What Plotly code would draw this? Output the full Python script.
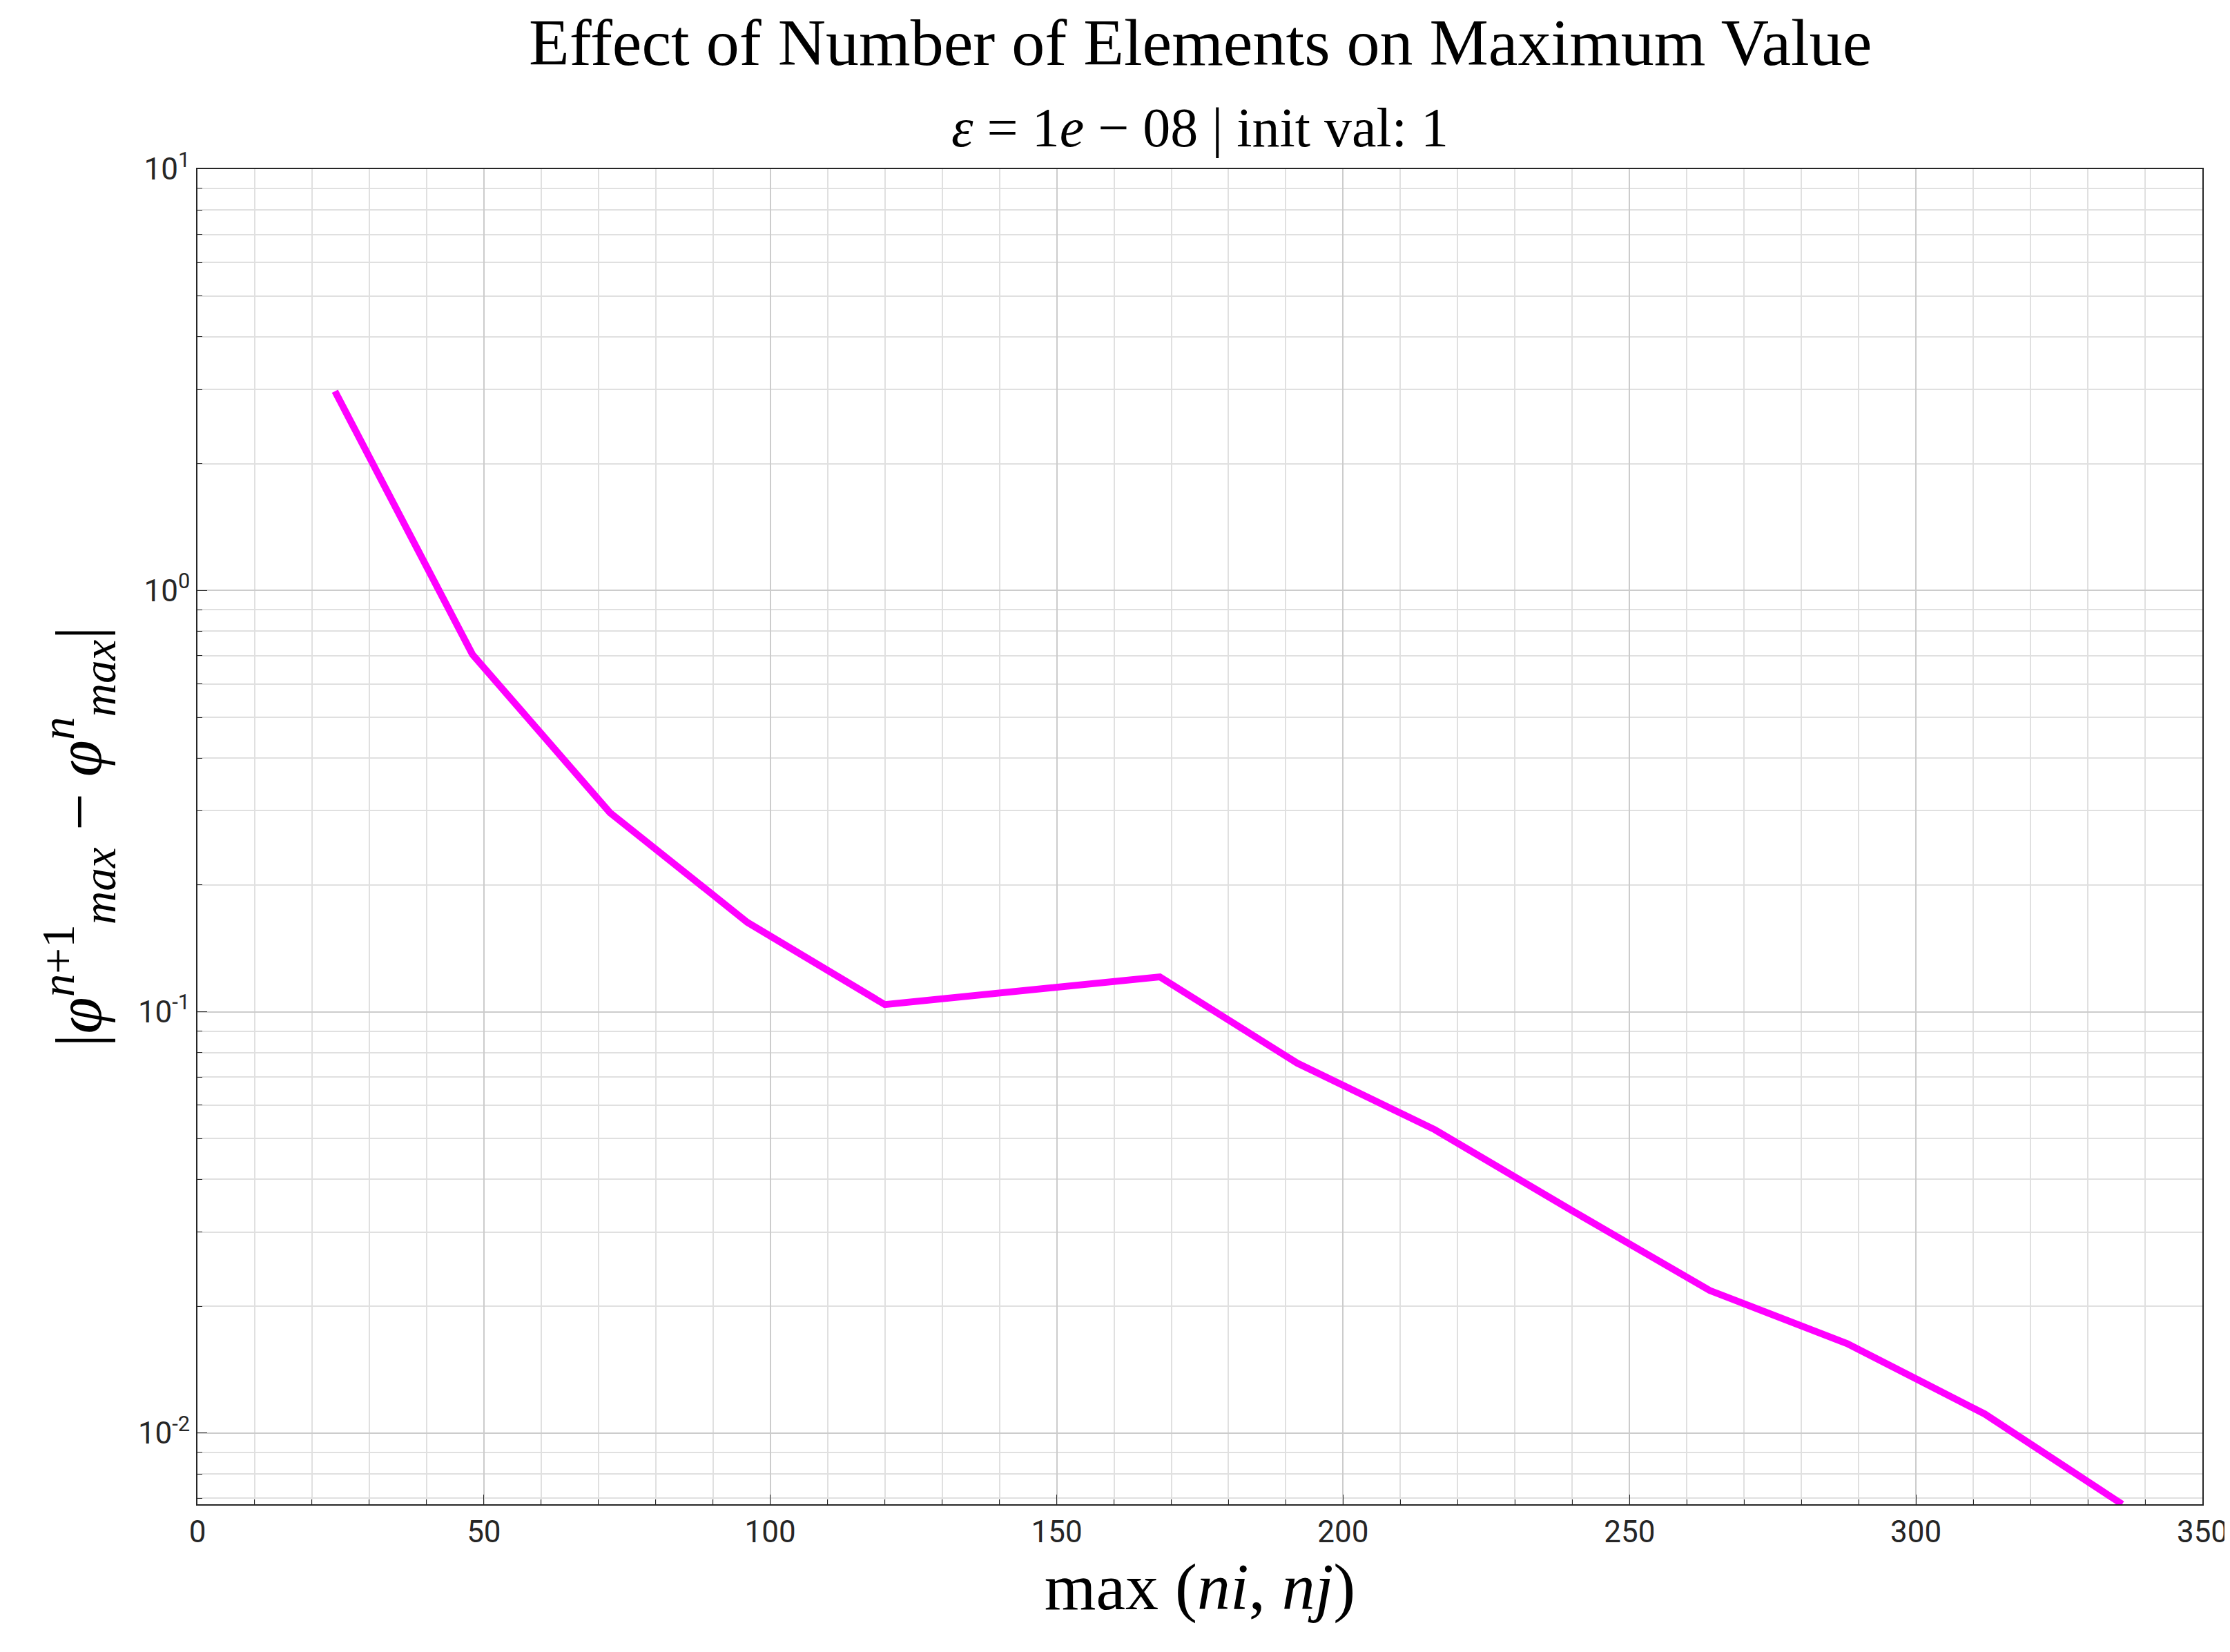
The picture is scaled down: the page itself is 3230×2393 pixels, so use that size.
import plotly.graph_objects as go

# sampled grid sizes and the change in maximum value
n_elements = [24, 48, 72, 96, 120, 144, 168, 192, 216, 240, 264, 288, 312, 336]
max_change = [2.97, 0.705, 0.297, 0.163, 0.104, 0.112, 0.121, 0.0755, 0.0525,
              0.0337, 0.0218, 0.0163, 0.0111, 0.00678]
y_tickvals = [0.01, 0.1, 1, 10]
y_ticktext = ["10<sup>-2</sup>", "10<sup>-1</sup>", "10<sup>0</sup>", "10<sup>1</sup>"]

serif = "Liberation Serif, DejaVu Serif, serif"
sans = "Roboto, Arial, sans-serif"

fig = go.Figure()
fig.add_trace(go.Scatter(
    x=n_elements, y=max_change,
    mode='lines',
    line=dict(color='#FF00FF', width=10),
    showlegend=False,
))

fig.add_annotation(
    text="Effect of Number of Elements on Maximum Value",
    xref='paper', yref='paper', x=0.5, y=1.0, yshift=128, yanchor='bottom',
    showarrow=False, font=dict(family=serif, size=96, color='black'),
)
fig.add_annotation(
    text="<i>ε</i> = 1<i>e</i> − 08 | init val: 1",
    xref='paper', yref='paper', x=0.5, y=1.0, yshift=14, yanchor='bottom',
    showarrow=False, font=dict(family=serif, size=80, color='black'),
)

fig.update_layout(
    width=3230, height=2393,
    paper_bgcolor='white',
    plot_bgcolor='white',
    margin=dict(l=278, r=48, t=237, b=222),
    font=dict(family=sans, size=44, color='#262626'),
)
fig.update_xaxes(
    range=[0, 350], dtick=50,
    showline=True, linecolor='#262626', linewidth=2, mirror=True,
    ticks='inside', ticklen=14, tickcolor='#262626',
    showgrid=True, gridcolor='#cccccc', gridwidth=2,
    minor=dict(dtick=10, showgrid=True, gridcolor='#e0e0e0', gridwidth=1.5,
               ticks='inside', ticklen=7, tickcolor='#262626'),
    zeroline=False,
    title=dict(text="max (<i>ni</i>, <i>nj</i>)", font=dict(family=serif, size=96, color='black'),
               standoff=20),
)
fig.update_yaxes(
    type='log', range=[-2.169, 1], tickvals=y_tickvals, ticktext=y_ticktext,
    showline=True, linecolor='#262626', linewidth=2, mirror=True,
    ticks='inside', ticklen=14, tickcolor='#262626',
    showgrid=True, gridcolor='#cccccc', gridwidth=2,
    minor=dict(dtick='D1', showgrid=True, gridcolor='#e0e0e0', gridwidth=1.5,
               ticks='inside', ticklen=7, tickcolor='#262626'),
    zeroline=False,
    title=dict(text="|<i>φ</i><sup><i>n</i>+1</sup><sub><i>max</i></sub> − <i>φ</i><sup><i>n</i></sup><sub><i>max</i></sub>|",
               font=dict(family=serif, size=96, color='black'), standoff=20),
)

fig.write_html("out.html")
